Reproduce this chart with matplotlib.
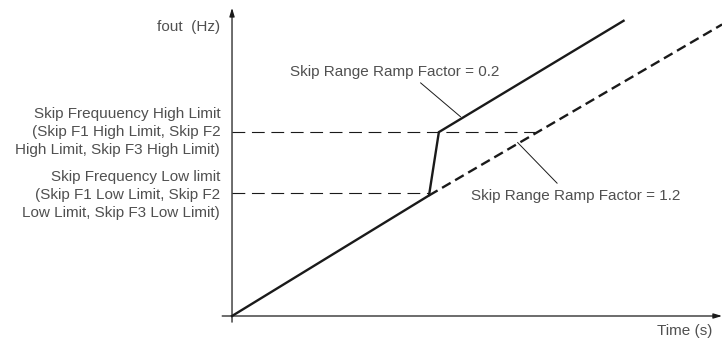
import matplotlib.pyplot as plt

plt.rcParams["font.family"] = ["Liberation Sans", "DejaVu Sans"]

# time / frequency units (arbitrary)
ramp_02_time = [0.0, 4.0, 4.2, 7.95]
ramp_02_freq = [0.0, 19.6, 29.9, 48.0]
ramp_12_time = [4.0, 9.95]
ramp_12_freq = [19.6, 47.4]

low_limit = 20.0
high_limit = 29.9
low_limit_end = 4.0
high_limit_end = 6.15

high_label = "Skip Frequuency High Limit\n(Skip F1 High Limit, Skip F2\nHigh Limit, Skip F3 High Limit)"
low_label = "Skip Frequency Low limit\n(Skip F1 Low Limit, Skip F2\nLow Limit, Skip F3 Low Limit)"

line_col = "#1a1a1a"
text_col = "#505050"

fig = plt.figure(figsize=(7.22, 3.38), dpi=100)
ax = fig.add_axes([0, 0, 1, 1])
ax.set_xlim(-4.711, 9.949)
ax.set_ylim(-3.577, 51.38)
ax.axis("off")

# axes with arrows
ax.annotate("", xy=(9.95, 0), xytext=(-0.2, 0),
            arrowprops=dict(arrowstyle="-|>,head_length=0.5,head_width=0.15",
                            lw=0.9, color=line_col, shrinkA=0, shrinkB=0))
ax.annotate("", xy=(0, 50.1), xytext=(0, -1.0),
            arrowprops=dict(arrowstyle="-|>,head_length=0.5,head_width=0.15",
                            lw=0.9, color=line_col, shrinkA=0, shrinkB=0))

# limit lines
ax.plot([0, low_limit_end], [low_limit, low_limit], color=line_col, lw=0.8,
        dashes=(11.5, 6))
ax.plot([0, high_limit_end], [high_limit, high_limit], color=line_col, lw=0.8,
        dashes=(11.5, 6))

# ramps
ax.plot(ramp_02_time, ramp_02_freq, color=line_col, lw=1.7,
        solid_joinstyle="miter")
ax.plot(ramp_12_time, ramp_12_freq, color=line_col, lw=1.7, dashes=(4.2, 2.2))

# leaders
ax.plot([3.83, 4.64], [37.9, 32.4], color=line_col, lw=0.7)
ax.plot([5.8, 6.6], [28.2, 21.6], color=line_col, lw=0.7)

fs = 11
ax.text(3.31, 39.6, "Skip Range Ramp Factor = 0.2", fontsize=fs, color=text_col,
        ha="center", va="center")
ax.text(4.85, 19.5, "Skip Range Ramp Factor = 1.2", fontsize=fs, color=text_col,
        ha="left", va="center")
ax.text(-0.24, 47.0, "fout  (Hz)", fontsize=fs, color=text_col,
        ha="right", va="center")
ax.text(9.75, -2.5, "Time (s)", fontsize=fs, color=text_col,
        ha="right", va="center")
ax.text(-0.24, high_limit, high_label, fontsize=fs, color=text_col,
        ha="right", va="center", linespacing=1.36)
ax.text(-0.24, low_limit - 0.3, low_label, fontsize=fs, color=text_col,
        ha="right", va="center", linespacing=1.36)

fig.savefig("out.png", dpi=100)
